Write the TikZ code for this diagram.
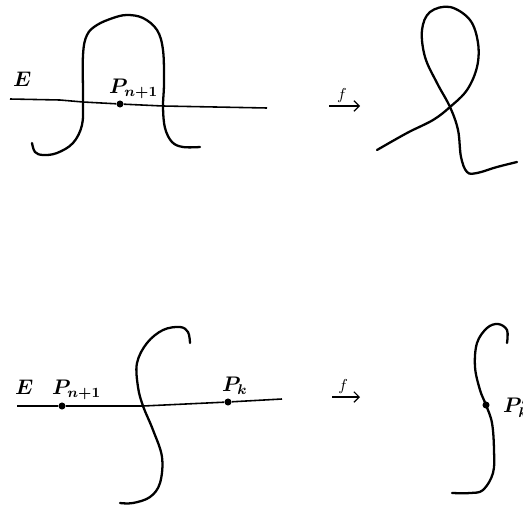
\documentclass[tikz,border=0pt]{standalone}
\usepackage{amsmath}
\usepackage{bm}
\usetikzlibrary{arrows.meta}

\tikzset{
	curve/.style={line width=1.3pt, line cap=round, line join=round},
	axisline/.style={line width=0.9pt},
	mapto/.style={-{Straight Barb[length=3pt]}, line width=0.7pt},
	dot/.style={circle, fill, inner sep=0pt, minimum size=4pt},
	lbl/.style={inner sep=1pt, font=\large}
}

\begin{document}
\begin{tikzpicture}[x=0.02cm, y=-0.02cm]
		\useasboundingbox (0,0) rectangle (523,507);
		
		% top row
		\coordinate (E1a) at (10,99);
		\coordinate (E1b) at (267,108);
		\node[dot] (P1) at (120,104) {};
		\draw[axisline] (E1a) -- (60,100) -- (83,102) -- (P1) -- (163,106) -- (E1b);
		\node[lbl, anchor=base west] (E1) at (11,86) {$\bm{E}$};
		\node[lbl, anchor=base west] (P1l) at (107,93) {$\bm{P_{n+1}}$};
		
		\draw[curve] plot[smooth, tension=0.6] coordinates {
			(32,143) (35,152) (43,155) (57,153) (73,143) (82,125) (83,100)
			(83,55) (87,35) (97,25) (113,18) (127,15) (143,18) (157,30)
			(163,50) (164,83) (163,107) (165,128) (172,142) (183,147) (200,147)};
		
		\coordinate (f1a) at (329,106);
		\coordinate (f1b) at (360,106);
		\draw[mapto] (f1a) -- (f1b) node[pos=0.42, above=-1.5pt, font=\small] (f1) {$f$};
		
		\draw[curve] plot[smooth, tension=0.6] coordinates {
			(377,150) (407,133) (433,120) (450,107) (467,90) (477,67) (478,43)
			(470,20) (450,7) (430,12) (422,30) (425,57) (437,83) (450,107)
			(458,130) (461,157) (467,172) (477,173) (497,167) (517,162)};
		
		% bottom row
		\coordinate (E2a) at (17,406);
		\coordinate (E2b) at (282,399);
		\node[dot] (P2) at (62,406) {};
		\node[dot] (Pk) at (228,402) {};
		\draw[axisline] (E2a) -- (P2) -- (143,406) -- (Pk) -- (E2b);
		\node[lbl, anchor=base west] (E2) at (13,394) {$\bm{E}$};
		\node[lbl, anchor=base west] (P2l) at (50,394) {$\bm{P_{n+1}}$};
		\node[lbl, anchor=base west] (Pkl) at (220,391) {$\bm{P_k}$};
		
		\draw[curve] plot[smooth, tension=0.6] coordinates {
			(190,343) (188,332) (180,327) (163,330) (147,343) (137,363)
			(138,387) (143,406) (153,430) (162,457) (160,483) (150,497)
			(133,503) (120,503)};
		
		\coordinate (f2a) at (332,397);
		\coordinate (f2b) at (360,397);
		\draw[mapto] (f2a) -- (f2b) node[pos=0.4, above=-1.5pt, font=\small] (f2) {$f$};
		
		\node[dot] (Pkf) at (486,405) {};
		\draw[curve] plot[smooth, tension=0.6] coordinates {
			(507,343) (507,330) (498,324) (487,328) (477,343) (475,367)
			(480,390) (486,405) (492,423) (494,450) (493,473) (483,490)
			(470,493) (452,493)};
		\node[lbl, anchor=base west] (Pkfl) at (501,412) {$\bm{P'_k}$};
	\end{tikzpicture}
\end{document}
